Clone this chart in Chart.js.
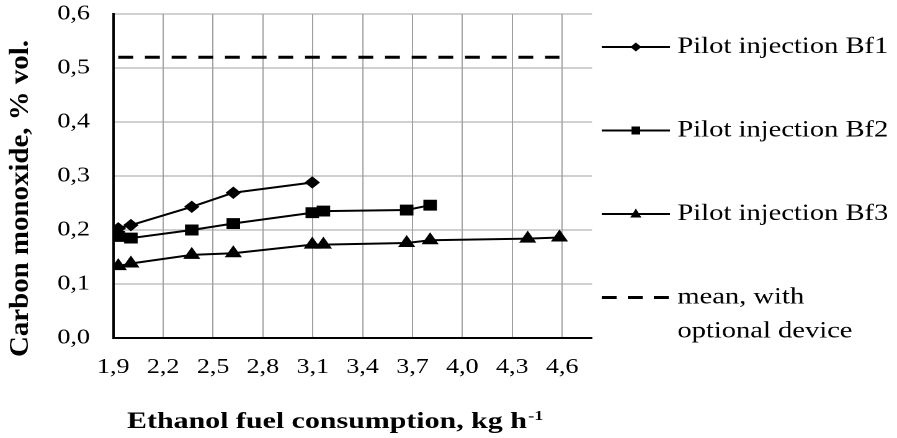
<!DOCTYPE html>
<html><head><meta charset="utf-8">
<script src="https://cdn.jsdelivr.net/npm/chart.js@4.4.1/dist/chart.umd.min.js"></script>
<style>
html,body{margin:0;padding:0;background:#fff;overflow:hidden;width:897px;height:438px}
#wrap{position:absolute;left:0;top:0;width:723px;height:438px;transform:scaleX(1.24066);transform-origin:0 0}
</style></head>
<body><div id="wrap"><canvas id="c" width="723" height="438"></canvas></div>
<script>
// ---- data ----
const xTicks = [1.9, 2.2, 2.5, 2.8, 3.1, 3.4, 3.7, 4.0, 4.3, 4.6];
const yTicks = [0, 0.1, 0.2, 0.3, 0.4, 0.5, 0.6];
const seriesNames = ['Pilot injection Bf1', 'Pilot injection Bf2', 'Pilot injection Bf3', 'mean, with optional device'];
const bf1X = [1.93, 2.006, 2.372, 2.622, 3.097];
const bf1Y = [0.203, 0.209, 0.243, 0.269, 0.288];
const bf2X = [1.93, 2.006, 2.372, 2.622, 3.097, 3.164, 3.665, 3.806];
const bf2Y = [0.188, 0.185, 0.200, 0.212, 0.232, 0.235, 0.237, 0.246];
const bf3X = [1.93, 2.006, 2.372, 2.622, 3.097, 3.164, 3.665, 3.806, 4.393, 4.584];
const bf3Y = [0.133, 0.138, 0.154, 0.157, 0.173, 0.173, 0.176, 0.181, 0.184, 0.186];
const meanX = [1.93, 4.584];
const meanY = [0.52, 0.52];
const xTitle = 'Ethanol fuel consumption, kg h';
const xTitleSup = '-1';
const yTitle = 'Carbon monoxide, % vol.';

const pts = (xs, ys) => xs.map((x, i) => ({x: x, y: ys[i]}));
const fmt = v => Number(v).toFixed(1).replace('.', ',');
const SERIF = "'Liberation Serif', 'Times New Roman', serif";

const decor = {
  id: 'decor',
  afterDraw(chart) {
    const ctx = chart.ctx;
    ctx.save();
    ctx.fillStyle = '#000';
    ctx.strokeStyle = '#000';
    // y title (rotated)
    ctx.save();
    ctx.translate(22.5, 198.5);
    ctx.rotate(-Math.PI / 2);
    ctx.font = 'bold 22px ' + SERIF;
    const yw = ctx.measureText(yTitle).width;
    ctx.scale(317 / yw, 1);
    ctx.textAlign = 'center';
    ctx.textBaseline = 'alphabetic';
    ctx.fillText(yTitle, 0, 0);
    ctx.restore();
    // x title with superscript
    ctx.save();
    ctx.font = 'bold 23px ' + SERIF;
    const mw = ctx.measureText(xTitle).width;
    ctx.font = 'bold 14px ' + SERIF;
    const sw = ctx.measureText(xTitleSup).width;
    const total = mw + sw;
    const left = 102.4, target = 334.5;
    ctx.translate(left, 428);
    ctx.scale(target / total, 1);
    ctx.textAlign = 'left';
    ctx.textBaseline = 'alphabetic';
    ctx.font = 'bold 23px ' + SERIF;
    ctx.fillText(xTitle, 0, 0);
    ctx.font = 'bold 14px ' + SERIF;
    ctx.fillText(xTitleSup, mw + 1, -8);
    ctx.restore();
    // legend
    const lx0 = 485, lx1 = 540, tx = 546;
    const rows = [47, 130.5, 214, 297.5];
    ctx.font = '23px ' + SERIF;
    ctx.textAlign = 'left';
    ctx.textBaseline = 'middle';
    rows.forEach((y, i) => {
      ctx.beginPath();
      ctx.lineWidth = i === 3 ? 3 : 2;
      ctx.setLineDash(i === 3 ? [12, 9] : []);
      ctx.moveTo(lx0, y); ctx.lineTo(lx1, y);
      ctx.stroke();
      ctx.setLineDash([]);
      const cx = (lx0 + lx1) / 2;
      ctx.beginPath();
      if (i === 0) {
        ctx.moveTo(cx, y - 4.5); ctx.lineTo(cx + 4.5, y); ctx.lineTo(cx, y + 4.5); ctx.lineTo(cx - 4.5, y); ctx.closePath(); ctx.fill();
      } else if (i === 1) {
        ctx.fillRect(cx - 3.5, y - 4, 7, 8);
      } else if (i === 2) {
        ctx.moveTo(cx, y - 5.5); ctx.lineTo(cx + 4.5, y + 3.5); ctx.lineTo(cx - 4.5, y + 3.5); ctx.closePath(); ctx.fill();
      }
      if (i < 3) {
        ctx.fillText(chart.data.datasets[i].label, tx, y);
      } else {
        ctx.fillText('mean, with', tx, y);
        ctx.fillText('optional device', tx, y + 34);
      }
    });
    ctx.restore();
  }
};

const lineDs = (label, data, style, radius) => ({
  label: label, data: data, showLine: true, tension: 0,
  borderColor: '#000', backgroundColor: '#000', borderWidth: 2,
  pointStyle: style, pointRadius: radius, pointHoverRadius: radius,
  pointBorderWidth: 1, pointBackgroundColor: '#000', pointBorderColor: '#000'
});

new Chart(document.getElementById('c'), {
  type: 'scatter',
  data: {
    datasets: [
      lineDs(seriesNames[0], pts(bf1X, bf1Y), 'rectRot', 5.5),
      lineDs(seriesNames[1], pts(bf2X, bf2Y), 'rect', 7),
      lineDs(seriesNames[2], pts(bf3X, bf3Y), 'triangle', 7),
      {label: seriesNames[3], data: pts(meanX, meanY), showLine: true, borderColor: '#000',
       borderWidth: 3, borderDash: [12, 9.5], pointRadius: 0, pointHoverRadius: 0}
    ]
  },
  options: {
    responsive: false, animation: false, devicePixelRatio: 2,
    layout: {padding: {left: 0, top: 14, right: 245.8, bottom: 0}},
    plugins: {legend: {display: false}, tooltip: {enabled: false}},
    scales: {
      x: {
        type: 'linear', min: 1.9, max: 4.78,
        afterBuildTicks: s => { s.ticks = xTicks.map(v => ({value: v})); },
        afterFit: s => { s.height = 100; s.paddingLeft = 0; s.paddingRight = 0; },
        grid: {color: '#a0a0a0', lineWidth: 1, drawTicks: false},
        border: {display: true, color: '#000', width: 2},
        ticks: {callback: v => fmt(v), color: '#000', padding: 17, maxRotation: 0, autoSkip: false,
                font: {family: SERIF, size: 21}}
      },
      y: {
        type: 'linear', min: 0, max: 0.6,
        afterBuildTicks: s => { s.ticks = yTicks.map(v => ({value: v})); },
        afterFit: s => { s.width = 91.3; s.paddingTop = 0; s.paddingBottom = 0; },
        grid: {color: '#a0a0a0', lineWidth: 1, drawTicks: false},
        border: {display: true, color: '#000', width: 2},
        ticks: {callback: v => fmt(v), color: '#000', padding: 18.8,
                font: {family: SERIF, size: 21}}
      }
    }
  },
  plugins: [decor]
});
</script>
</body></html>
